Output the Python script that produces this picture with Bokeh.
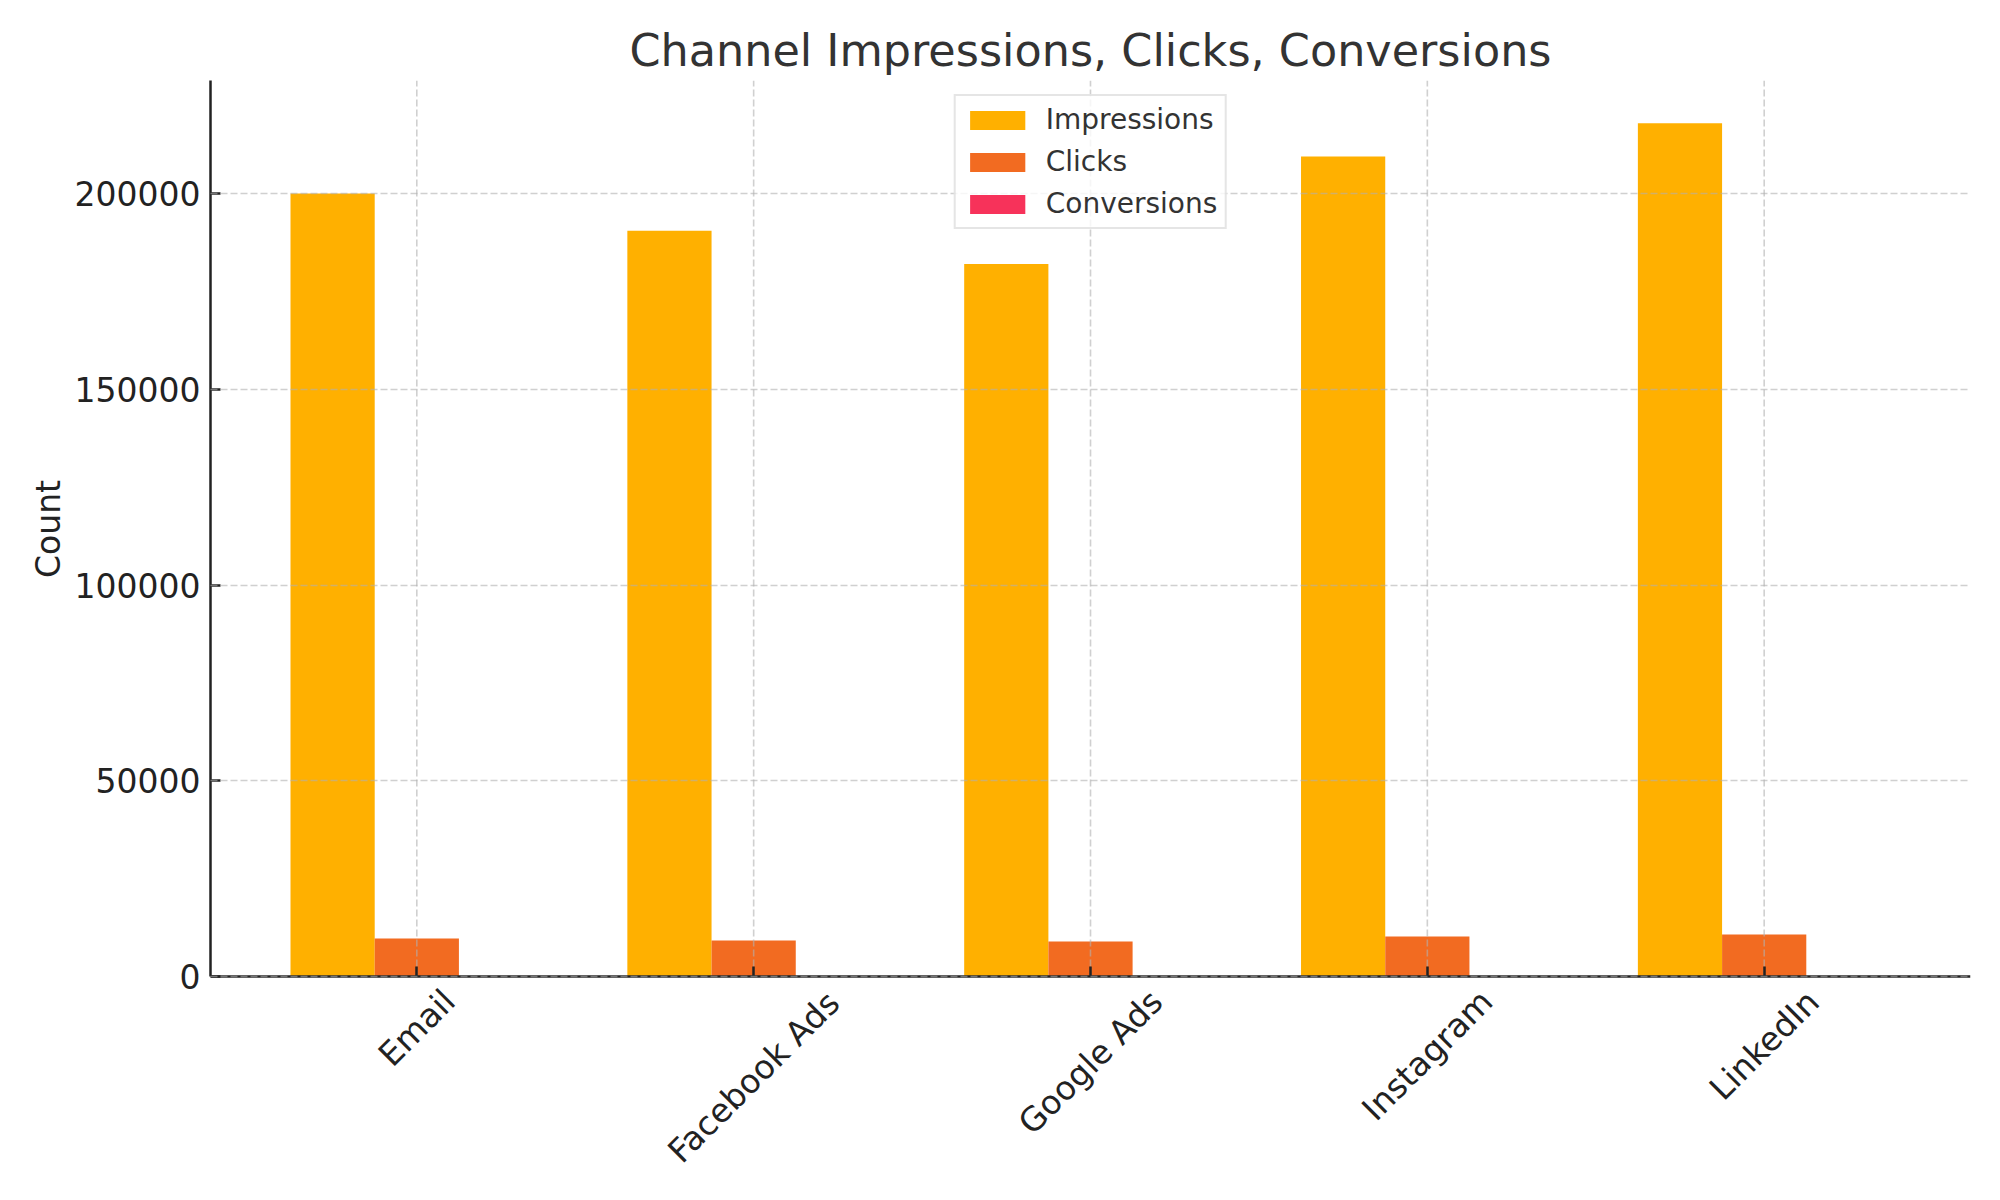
import math
from bokeh.plotting import figure
from bokeh.models import ColumnDataSource, Range1d, NumeralTickFormatter, Title
from bokeh.core.properties import value
from bokeh.transform import dodge
from bokeh.embed import file_html
from bokeh.resources import INLINE

# ---- data ----
channels = ["Email", "Facebook Ads", "Google Ads", "Instagram", "LinkedIn"]
impressions = [200100, 190600, 182100, 209600, 218100]
clicks = [9700, 9200, 8950, 10230, 10740]
conversions = [60, 55, 52, 64, 68]
series_names = ["Impressions", "Clicks", "Conversions"]
series_colors = ["#FFB000", "#F26B21", "#F7325A"]
y_ticks = [0, 50000, 100000, 150000, 200000]

FONT = "DejaVu Sans"
W, H = 2000, 1200
LEFT, RIGHT, TOP, BOTTOM = 210, 30, 80, 20
AXIS_Y = 976                 # pixel row of the x axis (value 0)
FRAME_BOTTOM = H - BOTTOM

xs = list(range(len(channels)))
source = ColumnDataSource(dict(x=xs, Impressions=impressions, Clicks=clicks,
                               Conversions=conversions))

bar_w = 0.25
offsets = [-bar_w, 0.0, bar_w]
lo = -1.5 * bar_w
hi = (len(channels) - 1) + 1.5 * bar_w
pad = 0.05 * (hi - lo)

ymax = 1.05 * max(impressions)
ppu = (AXIS_Y - TOP) / ymax                 # pixels per count
ymin = -(FRAME_BOTTOM - AXIS_Y) / ppu       # room under the axis for labels

p = figure(width=W, height=H, x_range=Range1d(lo - pad, hi + pad),
           y_range=Range1d(ymin, ymax),
           output_backend="svg", toolbar_location=None,
           min_border_left=LEFT, min_border_right=RIGHT,
           min_border_top=TOP, min_border_bottom=BOTTOM,
           title="Channel Impressions, Clicks, Conversions")
p.outline_line_color = None

for name, color, off in zip(series_names, series_colors, offsets):
    p.vbar(x=dodge("x", off, range=p.x_range), top=name, width=bar_w,
           source=source, fill_color=color, line_color=None,
           legend_label=name)

# vertical dashed grid lines spanning the value range only
grid_kw = dict(line_color="#b0b0b0", line_alpha=0.6, line_width=1.6,
               line_dash="7 3")
p.segment(x0=xs, y0=[0] * len(xs), x1=xs, y1=[ymax] * len(xs), **grid_kw)
p.xgrid.visible = False
p.ygrid.grid_line_color = grid_kw["line_color"]
p.ygrid.grid_line_alpha = grid_kw["line_alpha"]
p.ygrid.grid_line_width = grid_kw["line_width"]
p.ygrid.grid_line_dash = grid_kw["line_dash"]
p.ygrid.level = "annotation"

# title
p.title.text_font = FONT
p.title.text_font_size = "44.5px"
p.title.text_font_style = "normal"
p.title.text_color = "#333333"
p.title.align = "center"
p.title.standoff = 10

# axes
p.xaxis.fixed_location = 0
p.xaxis.ticker = xs
p.xaxis.major_label_overrides = {i: "" for i in xs}
p.xaxis.major_label_text_font_size = "0px"
p.xaxis.major_label_standoff = 0
p.yaxis.ticker = y_ticks
p.yaxis.bounds = (0, ymax)
p.yaxis.formatter = NumeralTickFormatter(format="0")
for ax in (p.xaxis, p.yaxis):
    ax.axis_line_width = 2.5
    ax.axis_line_color = "#222222"
    ax.major_tick_line_color = "#222222"
    ax.major_tick_line_width = 2.5
    ax.major_tick_in = 10
    ax.major_tick_out = 0
    ax.minor_tick_line_color = None
p.yaxis.major_label_text_font = FONT
p.yaxis.major_label_text_font_size = "33px"
p.yaxis.major_label_text_color = "#222222"
p.yaxis.major_label_standoff = 10

# y axis title, centred on the value span (0 .. ymax) rather than the frame
char_w = {"E": .632, "m": .974, "a": .613, "i": .278, "l": .278, "F": .575,
          "c": .550, "e": .615, "b": .635, "o": .612, "k": .579, " ": .318,
          "A": .684, "d": .635, "s": .521, "G": .775, "g": .635, "I": .295,
          "n": .634, "t": .392, "r": .411, "L": .557, "C": .698, "u": .634}
fs = 33.3
count_w = sum(char_w[ch] for ch in "Count") * fs
value_mid = (TOP + AXIS_Y) / 2
p.add_layout(Title(text="Count", align="left",
                   offset=FRAME_BOTTOM - (value_mid + count_w / 2),
                   text_font=FONT, text_font_size="33px",
                   text_font_style="normal", text_color="#222222",
                   standoff=7), "left")

# rotated category labels centred under each tick
label_y = []
for name in channels:
    w = sum(char_w.get(ch, 0.6) for ch in name) * fs
    bh = (w + 0.73 * fs) * math.sqrt(0.5)
    label_y.append(-(10 + bh / 2) / ppu)
p.text(x=xs, y=label_y, text=channels, angle=math.pi / 4,
       text_align="center", text_baseline="middle",
       text_font=value(FONT), text_font_size=value("33px"),
       text_color="#222222")

# legend (bar swatches are drawn at 80% of the glyph box)
lg = p.legend[0]
lg.location = "top_center"
lg.margin = 14
lg.padding = 7
lg.spacing = 9
lg.glyph_width = 69
lg.glyph_height = 24
lg.label_standoff = 14
lg.label_text_font = FONT
lg.label_text_font_size = "28px"
lg.label_text_color = "#333333"
lg.border_line_color = "#cccccc"
lg.border_line_width = 2
lg.background_fill_alpha = 0.8

open("out.html", "w").write(file_html(p, INLINE))
